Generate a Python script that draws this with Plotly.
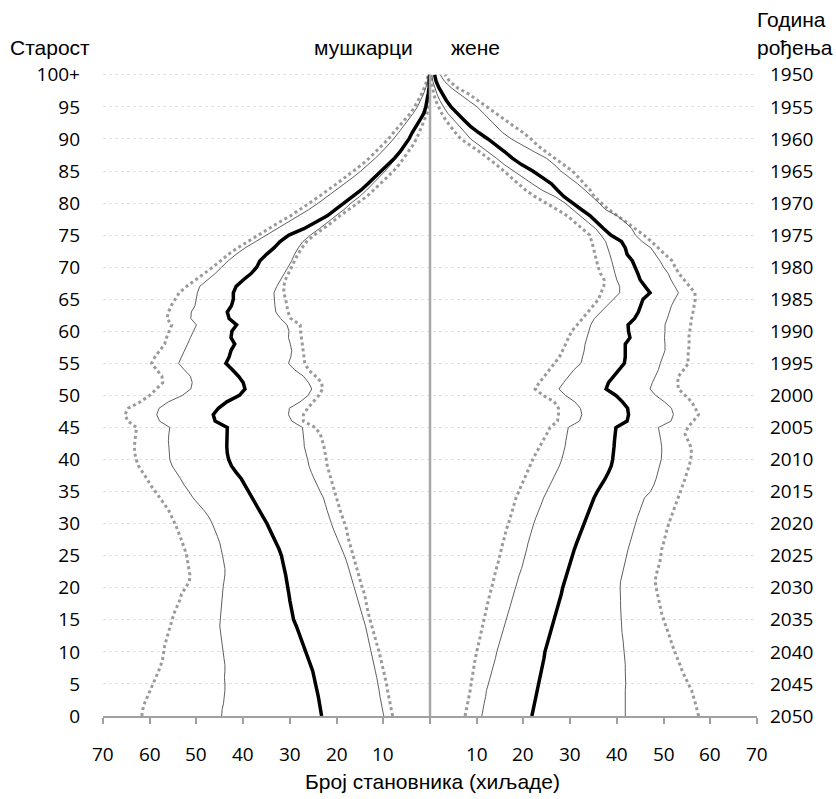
import plotly.graph_objects as go

# ---- data (thousands of persons, by single year of age; 100 = 100+) ----
ages = list(range(101))
age_ticks = list(range(0, 101, 5))
age_labels = [str(a) for a in range(0, 100, 5)] + ["100+"]
birth_labels = [str(y) for y in range(2050, 1945, -5)]
x_ticks = [-70, -60, -50, -40, -30, -20, -10, 0, 10, 20, 30, 40, 50, 60, 70]
x_labels = ["70", "60", "50", "40", "30", "20", "10", "", "10", "20", "30", "40", "50", "60", "70"]

# males: upper dotted bound, upper thin bound, median, lower thin bound, lower dotted bound
male_outer_hi = [
    61.7, 61.5, 61.1, 60.5, 59.8, 59.2, 58.7, 58.1, 57.6, 57.2,
    57.0, 56.8, 56.4, 56.0, 55.6, 55.3, 54.8, 54.2, 53.6, 53.2,
    52.3, 51.5, 51.4, 51.6, 51.8, 52.1, 52.5, 53.0, 53.4, 54.0,
    54.6, 55.2, 55.9, 56.8, 57.8, 58.8, 59.8, 60.6, 61.5, 62.4,
    62.9, 63.2, 63.3, 63.2, 63.0, 62.8, 64.7, 65.3, 64.6, 62.0,
    60.0, 58.6, 57.2, 57.4, 58.6, 59.6, 58.9, 57.8, 56.8, 56.4,
    55.8, 55.3, 56.3, 56.0, 55.4, 54.6, 53.7, 52.1, 50.2, 48.3,
    46.5, 44.8, 43.2, 41.2, 39.0, 37.0, 34.7, 32.3, 29.9, 27.7,
    25.8, 23.8, 21.8, 20.0, 18.2, 16.3, 14.6, 13.0, 11.6, 10.2,
    8.9, 7.8, 6.6, 5.4, 4.2, 3.3, 2.5, 1.8, 1.2, 0.7,
    0.4,
]
male_hi = [
    44.6, 44.5, 44.2, 44.0, 43.9, 43.9, 44.0, 43.9, 43.9, 44.1,
    44.3, 44.5, 44.7, 44.9, 45.0, 44.9, 44.8, 44.7, 44.6, 44.5,
    44.3, 44.1, 43.9, 43.9, 44.1, 44.4, 44.7, 45.0, 45.5, 46.0,
    46.6, 47.3, 48.3, 49.5, 50.7, 51.6, 52.6, 53.4, 54.3, 55.2,
    55.7, 55.8, 56.0, 56.0, 55.9, 55.7, 57.9, 58.5, 58.0, 56.0,
    53.0, 51.2, 50.9, 51.3, 52.6, 53.8, 53.2, 52.5, 51.9, 51.3,
    50.6, 50.0, 51.2, 51.1, 50.3, 50.0, 49.8, 49.3, 47.6, 46.0,
    44.6, 43.2, 41.5, 39.6, 37.3, 35.0, 32.6, 30.2, 28.0, 25.9,
    23.9, 22.0, 20.1, 18.3, 16.5, 14.8, 13.2, 11.7, 10.3, 9.0,
    7.8, 6.7, 5.6, 4.6, 3.6, 2.7, 2.0, 1.4, 0.9, 0.5,
    0.3,
]
male_median = [
    23.2, 23.4, 23.6, 23.9, 24.2, 24.5, 24.8, 25.1, 25.6, 26.1,
    26.6, 27.1, 27.5, 28.0, 28.6, 29.2, 29.5, 29.8, 30.0, 30.2,
    30.4, 30.6, 30.9, 31.2, 31.5, 31.8, 32.3, 32.9, 33.6, 34.2,
    34.9, 35.7, 36.5, 37.3, 38.1, 38.9, 39.6, 40.4, 41.5, 42.5,
    43.1, 43.4, 43.5, 43.5, 43.5, 43.4, 46.0, 46.4, 45.3, 43.5,
    40.8, 39.6, 40.0, 41.0, 42.3, 43.7, 43.0, 42.6, 41.8, 42.6,
    42.4, 41.4, 43.0, 43.4, 42.5, 42.1, 42.1, 41.5, 40.0, 38.3,
    37.1, 36.4, 35.0, 33.4, 32.1, 30.2, 27.0, 24.5, 22.0, 20.2,
    18.3, 16.5, 14.8, 13.3, 11.9, 10.3, 8.9, 7.6, 6.4, 5.4,
    4.5, 3.8, 3.0, 2.2, 1.3, 0.9, 0.6, 0.4, 0.2, 0.1,
    0.1,
]
male_lo = [
    9.9, 10.2, 10.5, 10.7, 10.9, 11.1, 11.4, 11.7, 12.0, 12.2,
    12.5, 12.8, 13.1, 13.4, 13.8, 14.2, 14.6, 15.0, 15.3, 15.7,
    16.1, 16.5, 16.9, 17.4, 17.8, 18.3, 18.9, 19.5, 20.1, 20.6,
    21.1, 21.6, 22.0, 22.4, 22.8, 23.5, 24.2, 24.8, 25.4, 25.9,
    26.2, 26.6, 26.9, 27.0, 27.1, 27.3, 29.6, 30.3, 30.1, 27.8,
    26.1, 25.3, 26.0, 27.1, 29.0, 30.3, 29.8, 29.6, 29.9, 30.3,
    30.2, 30.6, 32.0, 33.0, 33.2, 33.3, 33.4, 32.8, 32.0, 31.2,
    30.4, 29.6, 29.0, 28.2, 27.2, 25.6, 23.7, 21.9, 20.1, 18.4,
    16.9, 15.1, 13.6, 12.2, 10.9, 9.6, 8.4, 7.3, 6.3, 5.3,
    4.4, 3.6, 2.9, 2.2, 1.6, 1.1, 0.7, 0.4, 0.2, 0.1,
    0.0,
]
male_outer_lo = [
    8.0, 8.3, 8.6, 8.9, 9.1, 9.3, 9.6, 9.9, 10.2, 10.5,
    10.9, 11.3, 11.7, 12.0, 12.4, 12.8, 13.2, 13.5, 13.8, 14.0,
    14.5, 14.9, 15.3, 15.7, 16.1, 16.5, 16.9, 17.3, 17.6, 17.8,
    18.3, 18.7, 19.2, 19.6, 20.0, 20.4, 20.7, 21.2, 21.6, 22.0,
    22.2, 22.4, 22.7, 23.1, 23.5, 24.6, 27.1, 27.1, 26.2, 25.0,
    23.8, 23.0, 23.2, 24.5, 26.0, 26.8, 27.0, 27.2, 27.4, 27.6,
    27.7, 27.8, 29.8, 30.4, 30.6, 30.9, 31.3, 31.3, 31.0, 30.3,
    29.6, 29.0, 28.3, 27.4, 26.4, 24.8, 22.8, 21.0, 19.3, 17.4,
    15.5, 13.6, 12.1, 10.6, 9.2, 7.8, 6.6, 5.6, 4.6, 3.7,
    2.9, 2.3, 1.7, 1.1, 0.6, 0.3, 0.2, 0.1, 0.1, 0.1,
    0.0,
]

# females: same five series
female_outer_hi = [
    57.5, 57.2, 56.8, 56.4, 56.0, 55.3, 54.6, 54.0, 53.5, 52.9,
    52.4, 51.9, 51.5, 51.0, 50.5, 50.0, 49.6, 49.3, 49.0, 48.6,
    48.4, 48.2, 48.4, 48.8, 49.2, 49.4, 49.6, 50.0, 50.3, 50.7,
    51.1, 51.6, 52.1, 52.7, 53.2, 53.7, 54.2, 54.6, 55.0, 55.5,
    55.8, 56.0, 55.8, 55.2, 54.6, 55.2, 56.4, 57.5, 56.8, 56.0,
    54.6, 53.2, 53.0, 53.2, 54.3, 55.3, 55.2, 55.3, 55.5, 55.4,
    55.6, 55.7, 56.0, 56.3, 56.6, 56.8, 56.7, 55.6, 54.4, 53.3,
    52.5, 51.8, 50.3, 48.9, 47.4, 45.8, 44.0, 42.0, 40.2, 38.2,
    36.6, 35.2, 34.3, 33.0, 31.6, 30.5, 28.6, 26.6, 24.8, 23.0,
    21.6, 19.9, 18.0, 16.1, 14.0, 12.2, 10.4, 8.3, 5.8, 4.2,
    3.2,
]
female_hi = [
    41.8, 41.8, 41.7, 41.8, 41.8, 41.9, 41.8, 41.8, 41.8, 41.7,
    41.5, 41.4, 41.3, 41.1, 41.0, 41.0, 40.9, 40.8, 40.8, 40.7,
    40.7, 40.8, 41.1, 41.5, 41.8, 42.1, 42.4, 42.8, 43.2, 43.6,
    43.9, 44.4, 44.9, 45.4, 45.9, 47.2, 47.9, 48.4, 48.8, 49.2,
    49.5, 49.6, 49.6, 49.4, 49.1, 48.9, 51.6, 52.1, 51.7, 50.2,
    48.3, 47.1, 47.6, 48.3, 48.9, 49.3, 49.8, 50.3, 50.3, 50.2,
    50.3, 50.3, 50.8, 51.3, 51.7, 52.4, 53.2, 52.4, 51.6, 51.0,
    50.0, 49.2, 48.3, 47.3, 45.4, 44.0, 43.2, 41.8, 40.1, 37.5,
    36.2, 34.8, 33.2, 31.6, 29.9, 28.0, 26.6, 24.9, 22.3, 20.0,
    17.4, 15.5, 14.2, 12.8, 11.6, 10.1, 8.2, 6.4, 4.5, 3.1,
    2.2,
]
female_median = [
    21.8, 22.1, 22.4, 22.7, 23.0, 23.2, 23.5, 23.8, 24.1, 24.4,
    24.6, 25.0, 25.4, 25.8, 26.2, 26.6, 26.9, 27.3, 27.7, 28.1,
    28.4, 28.8, 29.3, 29.7, 30.1, 30.5, 30.9, 31.4, 31.9, 32.4,
    32.9, 33.4, 34.0, 34.6, 35.1, 35.8, 36.7, 37.5, 38.2, 38.8,
    39.1, 39.3, 39.4, 39.5, 39.6, 39.8, 42.2, 42.5, 42.3, 41.2,
    39.8, 37.7, 38.2, 39.4, 40.6, 41.6, 41.8, 41.8, 41.8, 42.8,
    42.5, 42.4, 43.8, 44.6, 45.1, 45.6, 47.1, 46.0, 45.0, 44.5,
    43.8, 43.3, 42.2, 41.8, 41.0, 38.7, 37.2, 35.8, 34.3, 32.4,
    30.5, 28.7, 27.3, 26.0, 24.0, 22.0, 19.6, 17.6, 16.0, 14.3,
    12.4, 10.4, 8.6, 7.2, 5.8, 4.5, 3.5, 2.6, 1.9, 1.3,
    1.0,
]
female_lo = [
    11.1, 11.3, 11.6, 11.9, 12.1, 12.5, 12.9, 13.3, 13.7, 14.0,
    14.3, 14.7, 15.0, 15.4, 15.8, 16.2, 16.6, 17.0, 17.4, 17.8,
    18.2, 18.7, 19.1, 19.6, 20.0, 20.3, 20.7, 21.0, 21.4, 21.7,
    22.2, 22.7, 23.3, 23.8, 24.3, 25.0, 25.7, 26.4, 27.1, 27.7,
    28.2, 28.6, 28.9, 29.1, 29.3, 29.6, 32.0, 32.5, 32.2, 31.0,
    29.0, 27.6, 28.6, 29.8, 30.8, 32.3, 32.7, 33.0, 33.2, 33.6,
    34.0, 34.4, 35.2, 36.6, 37.8, 39.2, 40.6, 40.6, 40.0, 39.6,
    39.3, 38.9, 38.5, 38.1, 37.6, 36.6, 35.5, 33.8, 32.1, 30.4,
    28.9, 26.8, 24.0, 21.9, 19.9, 18.0, 15.9, 14.2, 12.4, 10.6,
    8.7, 7.5, 6.2, 5.0, 3.8, 2.9, 2.1, 1.5, 1.0, 0.6,
    0.4,
]
female_outer_lo = [
    7.5, 7.8, 8.1, 8.3, 8.6, 8.8, 9.0, 9.3, 9.5, 9.7,
    10.0, 10.3, 10.6, 10.9, 11.2, 11.6, 11.9, 12.2, 12.5, 12.8,
    13.2, 13.5, 13.9, 14.2, 14.6, 14.9, 15.3, 15.6, 16.0, 16.3,
    16.8, 17.2, 17.6, 18.0, 18.4, 19.0, 19.6, 20.1, 20.7, 21.3,
    22.0, 22.7, 23.5, 24.3, 25.0, 25.7, 27.3, 27.5, 27.5, 26.6,
    24.2, 22.5, 23.4, 24.5, 25.6, 26.8, 27.7, 28.4, 29.0, 29.7,
    30.3, 31.5, 32.7, 33.9, 35.0, 36.1, 36.6, 37.2, 37.3, 36.5,
    36.0, 35.6, 35.3, 35.0, 34.6, 34.2, 32.6, 31.0, 29.4, 27.2,
    24.7, 22.5, 20.5, 19.0, 17.4, 15.8, 14.2, 12.5, 10.6, 8.6,
    6.6, 5.4, 4.3, 3.3, 2.5, 1.8, 1.2, 0.8, 0.5, 0.3,
    0.2,
]

# ---- styles ----
DOT = dict(color="#9a9a9a", width=3, dash="dot")
THIN = dict(color="#606060", width=1)
THICK = dict(color="#000000", width=3.5)
NUM_FONT = dict(family="Open Sans, DejaVu Sans, sans-serif", size=19, color="#000")
TXT_FONT = dict(family="Liberation Sans, Arial, sans-serif", size=21, color="#000")

W, H = 836, 799
ML, MR, MT, MB = 103, 79, 62, 83
PW, PH = W - ML - MR, H - MT - MB


def px(xpix):
    return (xpix - ML) / PW


def py(ypix):
    return (H - MB - ypix) / PH


fig = go.Figure()

series = [
    (male_outer_hi, DOT, -1), (male_outer_lo, DOT, -1),
    (female_outer_hi, DOT, 1), (female_outer_lo, DOT, 1),
    (male_hi, THIN, -1), (male_lo, THIN, -1),
    (female_hi, THIN, 1), (female_lo, THIN, 1),
    (male_median, THICK, -1), (female_median, THICK, 1),
]
for values, style, side in series:
    fig.add_trace(go.Scatter(
        x=[side * v for v in values], y=ages, mode="lines",
        line=style, hoverinfo="skip", showlegend=False,
    ))

# birth-year axis on the right (shares the age scale)
fig.add_trace(go.Scatter(
    x=[0, 0], y=[0, 100], yaxis="y2", mode="lines",
    line=dict(color="#a8a8a8", width=2.5), hoverinfo="skip", showlegend=False,
))

# x tick labels set lower under the axis, as absolute values on both sides
x_tick_annotations = [
    dict(text=lab, x=val, y=py(754), xref="x", yref="paper",
         xanchor="center", yanchor="middle", showarrow=False, font=NUM_FONT)
    for val, lab in zip(x_ticks, x_labels) if lab
]

fig.update_layout(
    width=W, height=H,
    margin=dict(l=ML, r=MR, t=MT, b=MB),
    paper_bgcolor="white", plot_bgcolor="white",
    showlegend=False,
    xaxis=dict(
        range=[-70, 70], tickvals=x_ticks, showticklabels=False,
        ticks="outside", ticklen=6, tickwidth=1.5, tickcolor="#a0a0a0",
        showline=True, linecolor="#a0a0a0", linewidth=2,
        showgrid=False, zeroline=False, automargin=False,
    ),
    yaxis=dict(
        range=[0, 102], tickvals=age_ticks, ticktext=age_labels,
        ticks="", showline=False, zeroline=False,
        showgrid=True, gridcolor="#e2e2e2", griddash="dot", gridwidth=1,
        tickfont=NUM_FONT, ticklabelstandoff=22, automargin=False,
    ),
    yaxis2=dict(
        range=[0, 102], tickvals=age_ticks, ticktext=birth_labels,
        overlaying="y", side="right", ticks="", showline=False,
        showgrid=False, zeroline=False, tickfont=NUM_FONT,
        ticklabelstandoff=12, automargin=False,
    ),
    annotations=x_tick_annotations + [
        dict(text="Старост", x=px(50), y=py(47), xref="paper", yref="paper",
             xanchor="center", yanchor="middle", showarrow=False, font=TXT_FONT),
        dict(text="мушкарци", x=px(363), y=py(47), xref="paper", yref="paper",
             xanchor="center", yanchor="middle", showarrow=False, font=TXT_FONT),
        dict(text="жене", x=px(475), y=py(47), xref="paper", yref="paper",
             xanchor="center", yanchor="middle", showarrow=False, font=TXT_FONT),
        dict(text="Година", x=px(755), y=py(20), xref="paper", yref="paper",
             xanchor="left", yanchor="middle", showarrow=False, font=TXT_FONT),
        dict(text="рођења", x=px(755), y=py(47), xref="paper", yref="paper",
             xanchor="left", yanchor="middle", showarrow=False, font=TXT_FONT),
        dict(text="Број становника (хиљаде)", x=px(432), y=py(781),
             xref="paper", yref="paper", xanchor="center", yanchor="middle",
             showarrow=False, font=TXT_FONT),
    ],
)

fig.write_html("out.html")
